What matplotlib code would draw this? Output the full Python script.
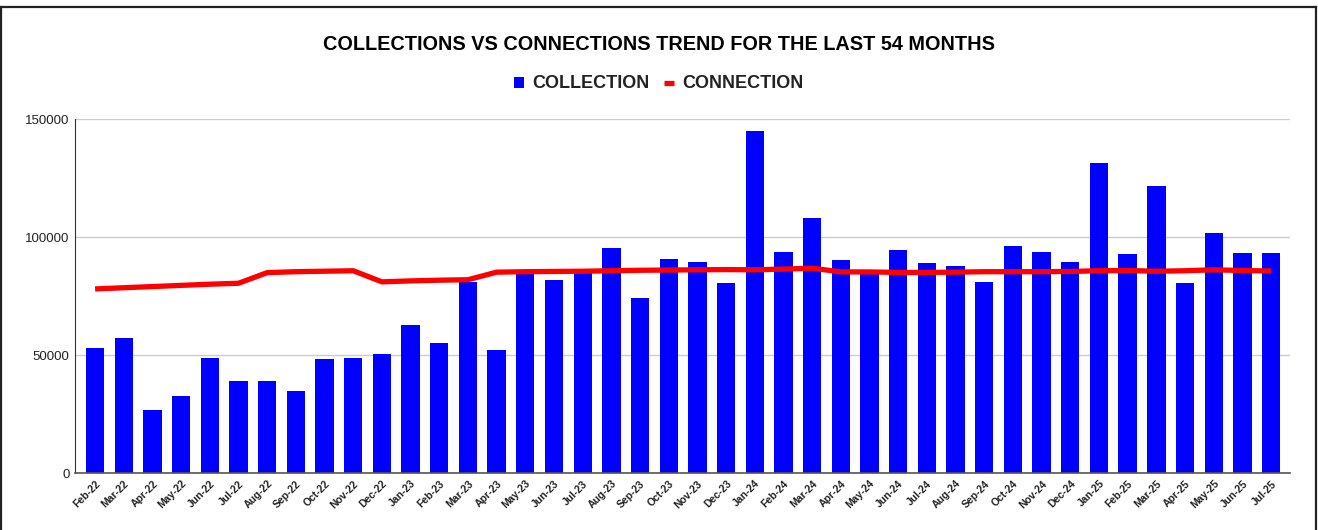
import matplotlib
matplotlib.use('Agg')
import matplotlib.pyplot as plt
from matplotlib.lines import Line2D

plt.rcParams['font.family'] = ['Liberation Sans', 'DejaVu Sans']

months = ['Feb-22', 'Mar-22', 'Apr-22', 'May-22', 'Jun-22', 'Jul-22', 'Aug-22',
          'Sep-22', 'Oct-22', 'Nov-22', 'Dec-22', 'Jan-23', 'Feb-23', 'Mar-23',
          'Apr-23', 'May-23', 'Jun-23', 'Jul-23', 'Aug-23', 'Sep-23', 'Oct-23',
          'Nov-23', 'Dec-23', 'Jan-24', 'Feb-24', 'Mar-24', 'Apr-24', 'May-24',
          'Jun-24', 'Jul-24', 'Aug-24', 'Sep-24', 'Oct-24', 'Nov-24', 'Dec-24',
          'Jan-25', 'Feb-25', 'Mar-25', 'Apr-25', 'May-25', 'Jun-25', 'Jul-25']

collection = [52900, 57100, 26700, 32800, 48900, 39000, 39000, 34800, 48200,
              48900, 50600, 62800, 55000, 81000, 52200, 84800, 81600, 84800,
              95300, 74100, 90800, 89400, 80700, 145000, 93600, 108100, 90200,
              84800, 94700, 88900, 87700, 81000, 96300, 93600, 89600, 131500,
              92600, 121800, 80400, 101900, 93200, 93200]

connection = [78000, 78500, 79000, 79500, 80000, 80400, 84900, 85300, 85500,
              85700, 81000, 81400, 81700, 81900, 85100, 85300, 85400, 85500,
              85700, 85900, 86000, 86100, 86200, 86100, 86400, 86800, 85200,
              85200, 85000, 85000, 85100, 85300, 85300, 85300, 85400, 85700,
              85800, 85500, 85700, 86100, 85800, 85600]

yticks = [0, 50000, 100000, 150000]

W, H = 1318, 530
fig = plt.figure(figsize=(W / 100, H / 100), dpi=100)
ax = fig.add_axes([75 / W, 1 - 473 / H, (1290 - 75) / W, (473 - 119) / H])

x = list(range(len(months)))
bars = ax.bar(x, collection, width=0.64, color='#0000ff', label='COLLECTION', zorder=2)
line, = ax.plot(x, connection, color='#ff0000', linewidth=3.8, label='CONNECTION',
                solid_capstyle='butt', zorder=3)

ax.set_xlim(-0.7, len(months) - 1 + 0.66)
ax.set_ylim(0, 150000)
ax.set_yticks(yticks)
ax.set_yticklabels([str(v) for v in yticks], fontsize=9.5, color='#222222')
ax.set_xticks(x)
ax.set_xticklabels(months, rotation=45, ha='right', rotation_mode='anchor',
                   fontsize=7.5, fontweight='bold', color='#222222')
ax.tick_params(axis='both', length=0, pad=4)
ax.grid(axis='y', color='#cccccc', linewidth=1, zorder=0)
ax.set_axisbelow(True)
for side in ['top', 'right']:
    ax.spines[side].set_visible(False)
ax.spines['left'].set_color('#333333')
ax.spines['bottom'].set_color('#555555')
ax.spines['bottom'].set_linewidth(1.2)

fig.text(0.5, 1 - 45 / H, 'COLLECTIONS VS CONNECTIONS TREND FOR THE LAST 54 MONTHS',
         ha='center', va='center', fontsize=14.3, fontweight='bold', color='#000000')

leg = fig.legend([bars, line], ['COLLECTION', 'CONNECTION'], loc='center',
                 bbox_to_anchor=(0.5, 1 - 84 / H), ncol=2, frameon=False,
                 fontsize=13, handlelength=0.55, handleheight=0.55,
                 handletextpad=0.45, columnspacing=0.8)
for t in leg.get_texts():
    t.set_fontweight('bold')
    t.set_color('#222222')

# outer frame: left, top and right edges
for xs, ys in [([1, 1], [0, H - 7]), ([1, W - 2], [H - 7, H - 7]), ([W - 2, W - 2], [0, H - 7])]:
    fig.add_artist(Line2D([v / W for v in xs], [v / H for v in ys], transform=fig.transFigure,
                          color='#222222', linewidth=1.6))

fig.savefig('out.png', dpi=100)
